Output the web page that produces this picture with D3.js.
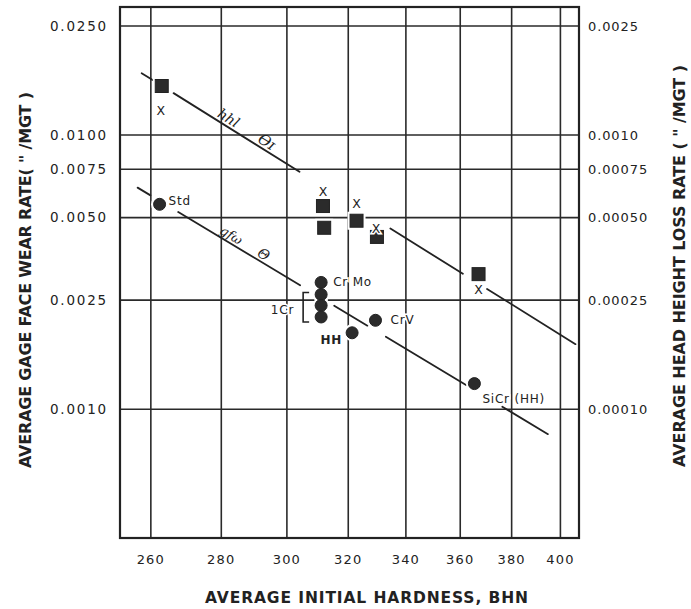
<!DOCTYPE html>
<html><head><meta charset="utf-8">
<script src="https://cdn.jsdelivr.net/npm/d3@7"></script>
<style>body{margin:0;background:#fff}svg{display:block}</style>
</head><body>
<svg id="c" width="691" height="609"></svg>
<script>
// ---------- data ----------
const xTicks = [260, 280, 300, 320, 340, 360, 380, 400];
const leftTicks = [0.025, 0.01, 0.0075, 0.005, 0.0025, 0.001];
const leftTickLabels = ["0.0250", "0.0100", "0.0075", "0.0050", "0.0025", "0.0010"];
const rightTicks = [0.0025, 0.001, 0.00075, 0.0005, 0.00025, 0.0001];
const rightTickLabels = ["0.0025", "0.0010", "0.00075", "0.00050", "0.00025", "0.00010"];

// average head height loss rate (right axis) - squares
const squareHardness = [263, 311.6, 312, 322.8, 329.8, 367];
const squareRate = [0.00151, 0.000551, 0.000459, 0.000487, 0.000425, 0.000311];
const squareLabels = ["X", "X", "", "X", "X", "X"];

// average gage face wear rate (left axis) - circles
const circleHardness = [262.4, 311, 311, 311, 311, 329.3, 321.3, 365.4];
const circleRate = [0.00559, 0.00290, 0.00262, 0.00239, 0.00217, 0.00211, 0.00190, 0.00124];
const circleLabels = ["Std", "Cr Mo", "", "", "", "CrV", "HH", "SiCr (HH)"];

// trend lines (end points) and their visible pieces
const headFitHardness = [257.5, 406.4];
const headFitRate = [0.001682, 0.0001727];
const headFitPieces = [[257.5, 260.5], [266.3, 304], [334.5, 361], [370.3, 406.4]];
const gageFitHardness = [256.4, 394.8];
const gageFitRate = [0.00643, 0.000811];
const gageFitPieces = [[256.4, 259.9], [267.6, 304.2], [315.3, 326.5], [332.9, 362.2], [376.3, 394.8]];

// ---------- layout ----------
const L = 120, R = 579, T = 7, B = 538;
const ink = "#222";
const svg = d3.select("#c");

const x = d3.scaleLog().domain([251.7, 407.9]).range([L, R]);
const yL = d3.scaleLog().domain([0.000339, 0.02932]).range([B, T]);
const yR = d3.scaleLog().domain([0.0000339, 0.002932]).range([B, T]);

// grid
const grid = svg.append("g").attr("stroke", "#2a2a2a").attr("stroke-width", 1.6);
grid.selectAll("line.v").data(xTicks).join("line").attr("class", "v")
  .attr("x1", d => x(d)).attr("x2", d => x(d)).attr("y1", T).attr("y2", B);
grid.selectAll("line.h").data(leftTicks).join("line").attr("class", "h")
  .attr("x1", L).attr("x2", R).attr("y1", d => yL(d)).attr("y2", d => yL(d));

// frame
svg.append("rect").attr("x", L).attr("y", T).attr("width", R - L).attr("height", B - T)
  .attr("fill", "none").attr("stroke", ink).attr("stroke-width", 2.2);

// tick labels
const tickFont = "'DejaVu Sans', sans-serif";
svg.append("g").selectAll("text").data(xTicks).join("text")
  .attr("x", d => x(d)).attr("y", 564).attr("text-anchor", "middle")
  .attr("font-family", tickFont).attr("font-size", 13).attr("letter-spacing", 1.2)
  .attr("fill", ink).text(d => d);
svg.append("g").selectAll("text").data(leftTicks).join("text")
  .attr("x", 108).attr("y", d => yL(d)).attr("dy", "0.36em").attr("text-anchor", "end")
  .attr("font-family", tickFont).attr("font-size", 13.5).attr("letter-spacing", 1.8)
  .attr("fill", ink).text((d, i) => leftTickLabels[i]);
svg.append("g").selectAll("text").data(rightTicks).join("text")
  .attr("x", 588).attr("y", d => yR(d)).attr("dy", "0.36em").attr("text-anchor", "start")
  .attr("font-family", tickFont).attr("font-size", 13).attr("letter-spacing", 0.9)
  .attr("fill", ink).text((d, i) => rightTickLabels[i]);

// axis titles
function title(txt, tx, ty, rot, len, size) {
  svg.append("text").attr("transform", `translate(${tx},${ty}) rotate(${rot})`)
    .attr("text-anchor", "middle").attr("dy", "0.36em")
    .attr("font-family", tickFont).attr("font-weight", "bold").attr("font-size", size)
    .attr("textLength", len).attr("lengthAdjust", "spacing")
    .attr("fill", ink).text(txt);
}
title("AVERAGE INITIAL HARDNESS, BHN", 366.5, 597, 0, 323, 15.5);
title("AVERAGE GAGE FACE WEAR RATE( \" /MGT )", 25, 280, -90, 376, 16);
title("AVERAGE HEAD HEIGHT LOSS RATE ( \" /MGT )", 679, 266, -90, 402, 16);

// trend lines
function powerLaw(hs, rs) {
  const b = Math.log(rs[1] / rs[0]) / Math.log(hs[1] / hs[0]);
  return h => rs[0] * Math.pow(h / hs[0], b);
}
const headFit = powerLaw(headFitHardness, headFitRate);
const gageFit = powerLaw(gageFitHardness, gageFitRate);
const lines = svg.append("g").attr("stroke", ink).attr("stroke-width", 1.8).attr("stroke-linecap", "round");
lines.selectAll("line.hf").data(headFitPieces).join("line").attr("class", "hf")
  .attr("x1", d => x(d[0])).attr("y1", d => yR(headFit(d[0])))
  .attr("x2", d => x(d[1])).attr("y2", d => yR(headFit(d[1])));
lines.selectAll("line.gf").data(gageFitPieces).join("line").attr("class", "gf")
  .attr("x1", d => x(d[0])).attr("y1", d => yL(gageFit(d[0])))
  .attr("x2", d => x(d[1])).attr("y2", d => yL(gageFit(d[1])));

// handwritten notes along the lines
function note(txt, h, fit, ys, off, size) {
  const h2 = h * 1.02;
  const x1 = x(h), y1 = ys(fit(h)), x2 = x(h2), y2 = ys(fit(h2));
  const ang = Math.atan2(y2 - y1, x2 - x1) * 180 / Math.PI;
  svg.append("text").attr("transform", `translate(${x1},${y1}) rotate(${ang})`)
    .attr("y", off).attr("text-anchor", "middle")
    .attr("font-family", "'DejaVu Serif', serif").attr("font-style", "italic")
    .attr("font-size", size).attr("fill", ink).text(txt);
}
note("hhl", 280.9, headFit, yR, -3, 14);
note("ϴɪ", 292.4, headFit, yR, -3, 15);
note("gfω", 281.8, gageFit, yL, -3, 13);
note("Θ", 291.5, gageFit, yL, -3, 14);

// squares
const sq = 13;
const sqG = svg.append("g");
const squares = squareHardness.map((h, i) => ({ h, r: squareRate[i], lab: squareLabels[i] }));
sqG.selectAll("rect.halo").data(squares).join("rect").attr("class", "halo")
  .attr("x", d => x(d.h) - sq / 2 - 2.5).attr("y", d => yR(d.r) - sq / 2 - 2.5)
  .attr("width", sq + 5).attr("height", sq + 5).attr("fill", "#fff");
sqG.selectAll("rect.m").data(squares).join("rect").attr("class", "m")
  .attr("x", d => x(d.h) - sq / 2).attr("y", d => yR(d.r) - sq / 2)
  .attr("width", sq).attr("height", sq).attr("fill", "#2b2b2b").attr("stroke", ink).attr("stroke-width", 1);
const xOff = [[-1, 24], [0, -15], [0, 0], [0, -17], [-1, -8], [0, 15]];
sqG.selectAll("text").data(squares).join("text")
  .attr("x", (d, i) => x(d.h) + xOff[i][0]).attr("y", (d, i) => yR(d.r) + xOff[i][1])
  .attr("dy", "0.36em").attr("text-anchor", "middle")
  .attr("font-family", tickFont).attr("font-size", 12.5).attr("fill", ink)
  .attr("stroke", "#fff").attr("stroke-width", 3).attr("paint-order", "stroke")
  .text(d => d.lab);

// circles
const cr = 6;
const ciG = svg.append("g");
const circles = circleHardness.map((h, i) => ({ h, r: circleRate[i], lab: circleLabels[i] }));
ciG.selectAll("circle.halo").data(circles).join("circle").attr("class", "halo")
  .attr("cx", d => x(d.h)).attr("cy", d => yL(d.r)).attr("r", cr + 2.5).attr("fill", "#fff");
ciG.selectAll("circle.m").data(circles).join("circle").attr("class", "m")
  .attr("cx", d => x(d.h)).attr("cy", d => yL(d.r)).attr("r", cr)
  .attr("fill", "#2b2b2b").attr("stroke", ink).attr("stroke-width", 1);
const cOff = [[9, -4, "start"], [12, -1, "start"], [0, 0, "start"], [0, 0, "start"], [0, 0, "start"],
              [15, -1, "start"], [-10, 7, "end"], [8, 15, "start"]];
ciG.selectAll("text").data(circles).join("text")
  .attr("x", (d, i) => x(d.h) + cOff[i][0]).attr("y", (d, i) => yL(d.r) + cOff[i][1])
  .attr("dy", "0.36em").attr("text-anchor", (d, i) => cOff[i][2])
  .attr("font-family", tickFont).attr("font-size", 12).attr("letter-spacing", 0.8)
  .attr("font-weight", (d, i) => d.lab === "HH" ? "bold" : "normal").attr("fill", ink)
  .attr("stroke", "#fff").attr("stroke-width", 3).attr("paint-order", "stroke")
  .text(d => d.lab);

// 1Cr group label with bracket
const crH = circleHardness[2], crTop = yL(circleRate[2]), crBot = yL(circleRate[4]);
const bx = x(crH) - 18;
svg.append("path")
  .attr("d", `M${bx + 6},${crTop - 2} H${bx} V${crBot + 5} H${bx + 6}`)
  .attr("fill", "none").attr("stroke", ink).attr("stroke-width", 1.6);
svg.append("text").attr("x", x(crH) - 27).attr("y", (crTop + crBot) / 2 + 4).attr("dy", "0.36em")
  .attr("text-anchor", "end").attr("font-family", tickFont).attr("font-size", 12).attr("letter-spacing", 0.8)
  .attr("fill", ink).attr("stroke", "#fff").attr("stroke-width", 3).attr("paint-order", "stroke")
  .text("1Cr");
</script>
</body></html>
